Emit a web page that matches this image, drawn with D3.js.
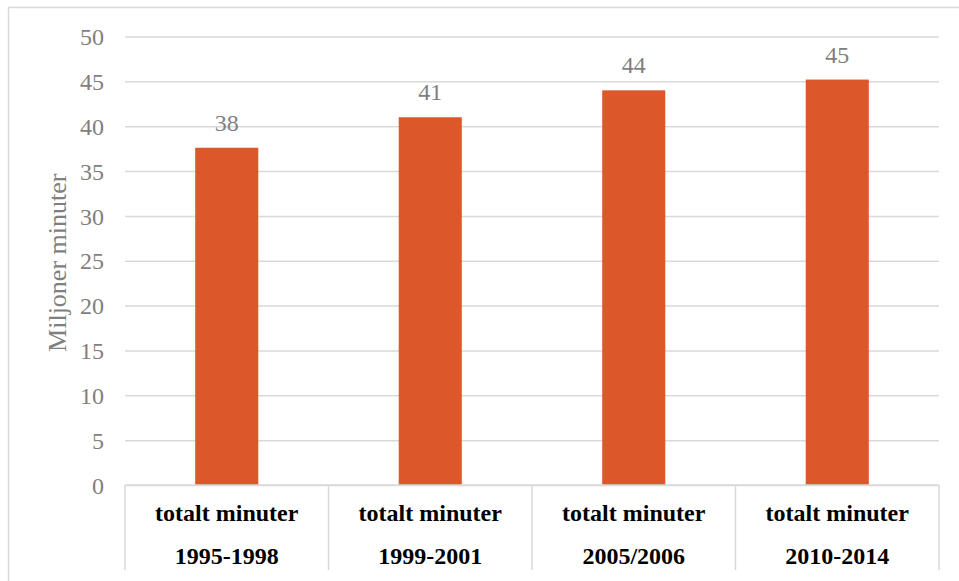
<!DOCTYPE html>
<html>
<head>
<meta charset="utf-8">
<script src="https://cdn.jsdelivr.net/npm/d3@7"></script>
<style>
  html, body { margin: 0; padding: 0; background: #fff; }
  svg { display: block; }
</style>
</head>
<body>
<svg id="chart" width="959" height="581"></svg>
<script>
// Total minutes (millions) per survey period
const seriesName = "totalt minuter";
const periods = ["1995-1998", "1999-2001", "2005/2006", "2010-2014"];
const values = [37.6, 41.0, 44.0, 45.2];
const yTicks = [0, 5, 10, 15, 20, 25, 30, 35, 40, 45, 50];
const yTitle = "Miljoner minuter";

const svg = d3.select("#chart");
const W = 959, H = 581;
const plot = { left: 125, right: 939, top: 36.5, bottom: 485 };
const serif = "'Liberation Serif', 'Times New Roman', serif";
const grey = "#7f7f7f";
const lineCol = "#d9d9d9";

// outer chart frame
svg.append("rect")
  .attr("x", 8.5).attr("y", 7.5)
  .attr("width", W + 10).attr("height", H + 10)
  .attr("fill", "none").attr("stroke", lineCol).attr("stroke-width", 1.5);

const y = d3.scaleLinear().domain([0, 50]).range([plot.bottom, plot.top]);
const x = d3.scaleBand().domain(periods).range([plot.left, plot.right]).paddingInner(0).paddingOuter(0);

// horizontal gridlines + tick labels via axis
const yAxis = d3.axisLeft(y).tickValues(yTicks).tickSize(-(plot.right - plot.left)).tickPadding(21).tickFormat(d3.format("d"));
const gy = svg.append("g").attr("transform", `translate(${plot.left},0)`).call(yAxis);
gy.select(".domain").remove();
gy.selectAll(".tick line").attr("stroke", lineCol).attr("stroke-width", 1.5);
gy.selectAll(".tick text")
  .attr("fill", grey).attr("font-family", serif).attr("font-size", 24)
  .attr("dy", "0.34em");

// y-axis title
svg.append("text")
  .attr("transform", `translate(66,${(plot.top + plot.bottom) / 2 + 2}) rotate(-90)`)
  .attr("text-anchor", "middle")
  .attr("fill", grey).attr("font-family", serif).attr("font-size", 26)
  .text(yTitle);

// bars
const barW = x.bandwidth() * 0.31;
svg.append("g").selectAll("rect").data(values).join("rect")
  .attr("x", (d, i) => x(periods[i]) + (x.bandwidth() - barW) / 2)
  .attr("y", d => y(d))
  .attr("width", barW)
  .attr("height", d => y(0) - y(d))
  .attr("fill", "#dc582a");

// value labels
svg.append("g").selectAll("text").data(values).join("text")
  .attr("x", (d, i) => x(periods[i]) + x.bandwidth() / 2)
  .attr("y", d => y(d) - 17)
  .attr("text-anchor", "middle")
  .attr("fill", grey).attr("font-family", serif).attr("font-size", 24)
  .text(d => d3.format(".0f")(d));

// category table below the plot
const tableBottom = 570;
const gx = svg.append("g");
gx.append("line")
  .attr("x1", plot.left).attr("x2", plot.right)
  .attr("y1", plot.bottom).attr("y2", plot.bottom)
  .attr("stroke", lineCol).attr("stroke-width", 1.5);
const edges = periods.map(p => x(p)).concat([plot.right]);
gx.selectAll("line.div").data(edges).join("line").attr("class", "div")
  .attr("x1", d => d).attr("x2", d => d)
  .attr("y1", plot.bottom).attr("y2", tableBottom)
  .attr("stroke", lineCol).attr("stroke-width", 1.5);

const labels = gx.selectAll("g.cat").data(periods).join("g").attr("class", "cat")
  .attr("transform", p => `translate(${x(p) + x.bandwidth() / 2},0)`);
labels.append("text")
  .attr("y", 521).attr("text-anchor", "middle")
  .attr("font-family", serif).attr("font-weight", "bold").attr("font-size", 24)
  .attr("fill", "#000").text(seriesName);
labels.append("text")
  .attr("y", 564).attr("text-anchor", "middle")
  .attr("font-family", serif).attr("font-weight", "bold").attr("font-size", 24)
  .attr("fill", "#000").text(p => p);
</script>
</body>
</html>
